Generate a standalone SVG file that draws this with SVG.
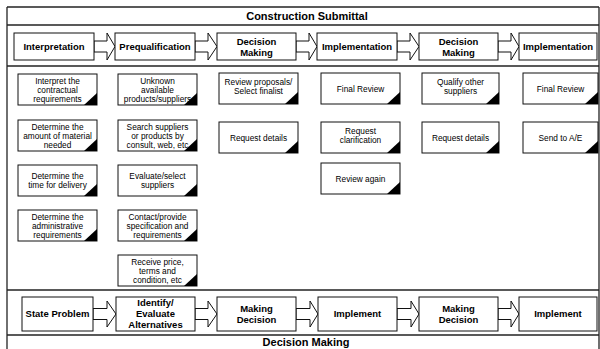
<svg xmlns="http://www.w3.org/2000/svg" width="600" height="349" viewBox="0 0 600 349">
<style>
.frame{fill:none;stroke:#222;stroke-width:1.3}
.phase{fill:#fff;stroke:#111;stroke-width:1}
.ptxt{font-family:"Liberation Sans",Arial,sans-serif;font-weight:bold;font-size:9.5px;fill:#000;text-anchor:middle}
.htxt{font-family:"Liberation Sans",Arial,sans-serif;font-weight:bold;font-size:11px;fill:#000;text-anchor:middle}
.task{fill:#fff;stroke:#111;stroke-width:1}
.tri{fill:#000}
.ttxt{font-family:"Liberation Sans",Arial,sans-serif;font-size:8.3px;fill:#000;text-anchor:middle}
.arr{fill:#fff;stroke:#111;stroke-width:1;stroke-linejoin:miter}
</style>
<rect width="600" height="349" fill="#fff"/>
<g id="frame">
<line class="frame" x1="7" y1="7" x2="599" y2="7"/>
<line class="frame" x1="7" y1="25" x2="599" y2="25"/>
<line class="frame" x1="7" y1="66" x2="599" y2="66"/>
<line class="frame" x1="7" y1="290" x2="599" y2="290"/>
<line class="frame" x1="7" y1="335" x2="599" y2="335"/>
<line class="frame" x1="7" y1="7" x2="7" y2="349"/>
<line class="frame" x1="599" y1="7" x2="599" y2="349"/>
</g>
<g id="header"><text class="htxt" x="307" y="20">Construction Submittal</text></g>
<g id="footer"><text class="htxt" x="306" y="346">Decision Making</text></g>

<g id="connectors">
<polygon class="arr" points="94,41 107,41 107,33 115,46.5 107,60 107,52 94,52"/>
<polygon class="arr" points="195,41 208,41 208,33 217,46.5 208,60 208,52 195,52"/>
<polygon class="arr" points="296,41 309,41 309,33 317,46.5 309,60 309,52 296,52"/>
<polygon class="arr" points="397,41 410,41 410,33 419,46.5 410,60 410,52 397,52"/>
<polygon class="arr" points="498,41 511,41 511,33 519,46.5 511,60 511,52 498,52"/>
<polygon class="arr" points="93,308.5 107,308.5 107,301 116,314 107,327 107,319.5 93,319.5"/>
<polygon class="arr" points="195,308.5 208,308.5 208,301 217,314 208,327 208,319.5 195,319.5"/>
<polygon class="arr" points="296,308.5 310,308.5 310,301 318,314 310,327 310,319.5 296,319.5"/>
<polygon class="arr" points="397,308.5 411,308.5 411,301 419,314 411,327 411,319.5 397,319.5"/>
<polygon class="arr" points="498,308.5 511,308.5 511,301 519,314 511,327 511,319.5 498,319.5"/>
</g>

<g id="p1"><rect class="phase" x="14" y="33" width="80" height="27"/><text class="ptxt" x="54" y="50">Interpretation</text></g>
<g id="p2"><rect class="phase" x="115" y="33" width="80" height="27"/><text class="ptxt" x="155" y="50">Prequalification</text></g>
<g id="p3"><rect class="phase" x="217" y="33" width="79" height="27"/><text class="ptxt" x="256.5" y="45">Decision</text><text class="ptxt" x="256.5" y="56">Making</text></g>
<g id="p4"><rect class="phase" x="317" y="33" width="80" height="27"/><text class="ptxt" x="357" y="50">Implementation</text></g>
<g id="p5"><rect class="phase" x="419" y="33" width="79" height="27"/><text class="ptxt" x="458.5" y="45">Decision</text><text class="ptxt" x="458.5" y="56">Making</text></g>
<g id="p6"><rect class="phase" x="519" y="33" width="78" height="27"/><text class="ptxt" x="558" y="50">Implementation</text></g>

<g id="b1"><rect class="phase" x="22" y="297" width="71" height="34"/><text class="ptxt" x="57.5" y="317">State Problem</text></g>
<g id="b2"><rect class="phase" x="116" y="297" width="79" height="34"/><text class="ptxt" x="155.5" y="306">Identify/</text><text class="ptxt" x="155.5" y="317">Evaluate</text><text class="ptxt" x="155.5" y="328">Alternatives</text></g>
<g id="b3"><rect class="phase" x="217" y="297" width="79" height="34"/><text class="ptxt" x="256.5" y="312">Making</text><text class="ptxt" x="256.5" y="323">Decision</text></g>
<g id="b4"><rect class="phase" x="318" y="297" width="79" height="34"/><text class="ptxt" x="357.5" y="317">Implement</text></g>
<g id="b5"><rect class="phase" x="419" y="297" width="79" height="34"/><text class="ptxt" x="458.5" y="312">Making</text><text class="ptxt" x="458.5" y="323">Decision</text></g>
<g id="b6"><rect class="phase" x="519" y="297" width="78" height="34"/><text class="ptxt" x="558" y="317">Implement</text></g>

<!-- column 1 -->
<g id="t1a" transform="translate(18,74)"><rect class="task" width="79" height="31"/><text class="ttxt" x="39.5" y="10">Interpret the</text><text class="ttxt" x="39.5" y="19">contractual</text><text class="ttxt" x="39.5" y="28">requirements</text><polygon class="tri" points="79,19 79,31 66,31"/></g>
<g id="t1b" transform="translate(18,120)"><rect class="task" width="79" height="31"/><text class="ttxt" x="39.5" y="10">Determine the</text><text class="ttxt" x="39.5" y="19">amount of material</text><text class="ttxt" x="39.5" y="28">needed</text><polygon class="tri" points="79,19 79,31 66,31"/></g>
<g id="t1c" transform="translate(18,165)"><rect class="task" width="79" height="31"/><text class="ttxt" x="39.5" y="14">Determine the</text><text class="ttxt" x="39.5" y="23">time for delivery</text><polygon class="tri" points="79,19 79,31 66,31"/></g>
<g id="t1d" transform="translate(18,210)"><rect class="task" width="79" height="31"/><text class="ttxt" x="39.5" y="10">Determine the</text><text class="ttxt" x="39.5" y="19">administrative</text><text class="ttxt" x="39.5" y="28">requirements</text><polygon class="tri" points="79,19 79,31 66,31"/></g>
<!-- column 2 -->
<g id="t2a" transform="translate(118,74)"><rect class="task" width="79" height="31"/><text class="ttxt" x="39.5" y="10">Unknown</text><text class="ttxt" x="39.5" y="19">available</text><text class="ttxt" x="39.5" y="28">products/suppliers</text><polygon class="tri" points="79,19 79,31 66,31"/></g>
<g id="t2b" transform="translate(118,120)"><rect class="task" width="79" height="31"/><text class="ttxt" x="39.5" y="10">Search suppliers</text><text class="ttxt" x="39.5" y="19">or products by</text><text class="ttxt" x="39.5" y="28">consult, web, etc</text><polygon class="tri" points="79,19 79,31 66,31"/></g>
<g id="t2c" transform="translate(118,165)"><rect class="task" width="79" height="31"/><text class="ttxt" x="39.5" y="14">Evaluate/select</text><text class="ttxt" x="39.5" y="23">suppliers</text><polygon class="tri" points="79,19 79,31 66,31"/></g>
<g id="t2d" transform="translate(118,210)"><rect class="task" width="79" height="31"/><text class="ttxt" x="39.5" y="10">Contact/provide</text><text class="ttxt" x="39.5" y="19">specification and</text><text class="ttxt" x="39.5" y="28">requirements</text><polygon class="tri" points="79,19 79,31 66,31"/></g>
<g id="t2e" transform="translate(118,255)"><rect class="task" width="79" height="31"/><text class="ttxt" x="39.5" y="10">Receive price,</text><text class="ttxt" x="39.5" y="19">terms and</text><text class="ttxt" x="39.5" y="28">condition, etc</text><polygon class="tri" points="79,19 79,31 66,31"/></g>
<!-- column 3 -->
<g id="t3a" transform="translate(219,73)"><rect class="task" width="79" height="31"/><text class="ttxt" x="39.5" y="12">Review proposals/</text><text class="ttxt" x="39.5" y="21">Select finalist</text><polygon class="tri" points="79,19 79,31 66,31"/></g>
<g id="t3b" transform="translate(219,122)"><rect class="task" width="79" height="31"/><text class="ttxt" x="39.5" y="18.5">Request details</text><polygon class="tri" points="79,19 79,31 66,31"/></g>
<!-- column 4 -->
<g id="t4a" transform="translate(321,73)"><rect class="task" width="79" height="31"/><text class="ttxt" x="39.5" y="18.5">Final Review</text><polygon class="tri" points="79,19 79,31 66,31"/></g>
<g id="t4b" transform="translate(321,122)"><rect class="task" width="79" height="31"/><text class="ttxt" x="39.5" y="12">Request</text><text class="ttxt" x="39.5" y="21">clarification</text><polygon class="tri" points="79,19 79,31 66,31"/></g>
<g id="t4c" transform="translate(321,163)"><rect class="task" width="79" height="31"/><text class="ttxt" x="39.5" y="18.5">Review again</text><polygon class="tri" points="79,19 79,31 66,31"/></g>
<!-- column 5 -->
<g id="t5a" transform="translate(422,73)"><rect class="task" width="77" height="31"/><text class="ttxt" x="38.5" y="12">Qualify other</text><text class="ttxt" x="38.5" y="21">suppliers</text><polygon class="tri" points="77,19 77,31 64,31"/></g>
<g id="t5b" transform="translate(422,122)"><rect class="task" width="77" height="31"/><text class="ttxt" x="38.5" y="18.5">Request details</text><polygon class="tri" points="77,19 77,31 64,31"/></g>
<!-- column 6 -->
<g id="t6a" transform="translate(523,73)"><rect class="task" width="75" height="31"/><text class="ttxt" x="37.5" y="18.5">Final Review</text><polygon class="tri" points="75,19 75,31 62,31"/></g>
<g id="t6b" transform="translate(523,122)"><rect class="task" width="75" height="31"/><text class="ttxt" x="37.5" y="18.5">Send to A/E</text><polygon class="tri" points="75,19 75,31 62,31"/></g>
</svg>
